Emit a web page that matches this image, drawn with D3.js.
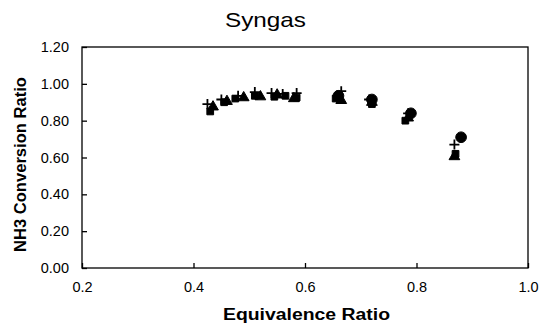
<!DOCTYPE html>
<html>
<head>
<meta charset="utf-8">
<script src="https://cdn.jsdelivr.net/npm/d3@7"></script>
<style>
  body { margin: 0; background: #fff; }
  svg { display: block; font-family: "Liberation Sans", Arial, sans-serif; }
  .axis line { stroke: #000; stroke-width: 1.3; }
  .axis text { font-size: 14.5px; fill: #000; }
</style>
</head>
<body>
<svg id="chart"></svg>
<script>
// Axis ticks
var xTicks = [0.2, 0.4, 0.6, 0.8, 1.0];
var yTicks = [0, 0.2, 0.4, 0.6, 0.8, 1.0, 1.2];

// Measured points, one array per marker series [equivalence ratio, NH3 conversion]
var seriesPlus = [[0.425, 0.89], [0.45, 0.915], [0.48, 0.935], [0.51, 0.955], [0.54, 0.95], [0.56, 0.945], [0.585, 0.95], [0.665, 0.96], [0.715, 0.915], [0.785, 0.84], [0.868, 0.67]];
var seriesSquare = [[0.43, 0.85], [0.455, 0.9], [0.475, 0.92], [0.51, 0.935], [0.545, 0.93], [0.565, 0.935], [0.585, 0.925], [0.655, 0.92], [0.72, 0.89], [0.78, 0.8], [0.87, 0.62]];
var seriesTriangle = [[0.435, 0.875], [0.46, 0.905], [0.49, 0.925], [0.52, 0.93], [0.55, 0.94], [0.58, 0.92], [0.665, 0.91], [0.72, 0.9], [0.785, 0.815], [0.868, 0.605]];
var seriesCircle = [[0.66, 0.935], [0.72, 0.915], [0.79, 0.84], [0.88, 0.71]];

var margin = {top: 47, right: 28, bottom: 63, left: 82},
    width = 556 - margin.left - margin.right,
    height = 331 - margin.top - margin.bottom;

var svg = d3.select("#chart")
    .attr("width", 556)
    .attr("height", 331);

var g = svg.append("g")
    .attr("transform", "translate(" + margin.left + "," + margin.top + ")");

var x = d3.scaleLinear().domain([0.2, 1.0]).range([0, width]);
var y = d3.scaleLinear().domain([0, 1.2]).range([height, 0]);

// Frame
g.append("rect")
    .attr("width", width)
    .attr("height", height)
    .attr("fill", "none")
    .attr("stroke", "#000")
    .attr("stroke-width", 1.3);

// x axis, ticks pointing inward
g.append("g")
    .attr("class", "axis")
    .attr("transform", "translate(0," + height + ")")
    .call(d3.axisBottom(x).tickValues(xTicks).tickSizeInner(-5).tickSizeOuter(0).tickPadding(14)
        .tickFormat(d3.format(".1f")))
    .call(function(a) { a.select(".domain").remove(); });

// y axis
g.append("g")
    .attr("class", "axis")
    .call(d3.axisLeft(y).tickValues(yTicks).tickSizeInner(-5).tickSizeOuter(0).tickPadding(13)
        .tickFormat(d3.format(".2f")))
    .call(function(a) { a.select(".domain").remove(); });

// Markers
function drawSeries(data, type, size) {
    g.append("g").selectAll("path")
        .data(data)
        .enter()
        .append("path")
        .attr("transform", function(d) { return "translate(" + x(d[0]) + "," + y(d[1]) + ")"; })
        .attr("d", d3.symbol().type(type).size(size))
        .attr("fill", "#000")
        .attr("stroke", "#000")
        .attr("stroke-width", 1);
}
drawSeries(seriesSquare, d3.symbolSquare, 45);
drawSeries(seriesTriangle, d3.symbolTriangle, 50);
drawSeries(seriesCircle, d3.symbolCircle, 90);

// plus markers drawn as thin crosses
g.append("g").selectAll("path")
    .data(seriesPlus)
    .enter()
    .append("path")
    .attr("transform", function(d) { return "translate(" + x(d[0]) + "," + y(d[1]) + ")"; })
    .attr("d", "M-5,0H5M0,-5V5")
    .attr("stroke", "#000")
    .attr("stroke-width", 1.8);

// Title and axis labels
svg.append("text")
    .attr("x", 225)
    .attr("y", 27)
    .attr("textLength", 81)
    .attr("lengthAdjust", "spacingAndGlyphs")
    .style("font-size", "21px")
    .text("Syngas");

svg.append("text")
    .attr("x", 223)
    .attr("y", 320)
    .attr("textLength", 167)
    .attr("lengthAdjust", "spacingAndGlyphs")
    .style("font-size", "16px")
    .style("font-weight", "bold")
    .text("Equivalence Ratio");

svg.append("text")
    .attr("transform", "translate(26,252) rotate(-90)")
    .attr("textLength", 175)
    .attr("lengthAdjust", "spacingAndGlyphs")
    .style("font-size", "17px")
    .style("font-weight", "bold")
    .text("NH3 Conversion Ratio");
</script>
</body>
</html>
